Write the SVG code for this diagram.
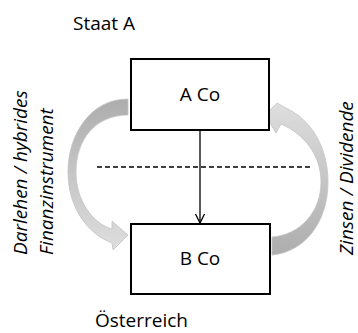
<svg xmlns="http://www.w3.org/2000/svg" width="358" height="333" viewBox="0 0 358 333">
<defs>
<style>
.t{font-family:"Open Sans","DejaVu Sans",sans-serif;font-size:19px;fill:#000}
.i{font-style:italic}
.box{fill:#fff;stroke:#000;stroke-width:2}
.flow{fill:url(#gl);stroke:#c4c4c4;stroke-width:0.8}
</style>
<linearGradient id="gl" x1="0" y1="0" x2="0" y2="1">
<stop offset="0" stop-color="#adadad"/>
<stop offset="1" stop-color="#dedede"/>
</linearGradient>
<linearGradient id="gr" x1="0" y1="1" x2="0" y2="0">
<stop offset="0" stop-color="#adadad"/>
<stop offset="1" stop-color="#dedede"/>
</linearGradient>
<marker id="ah" markerWidth="12" markerHeight="12" refX="10" refY="6" orient="auto" markerUnits="userSpaceOnUse">
<path d="M1,1.5 L10,6 L1,10.5" fill="none" stroke="#000" stroke-width="1.3"/>
</marker>
</defs>
<rect width="358" height="333" fill="#fff"/>
<g id="connectors">
<path id="loan" class="flow" d="M128,99 C90,99 68,135 68,172 C68,208 88,234 112,243 L113,250 L128,235 L112,221 L112,229 C92,223 76,200 76,172 C76,140 95,115 128,115 Z"/>
<path id="interest" class="flow" style="fill:url(#gr)" d="M272,255 C305,252 328,222 328,182 C328,148 312,120 286,108 L277,103 L265,115 L276,133 L281,124 C304,134 321,155 321,182 C321,212 300,235 272,237 Z"/>
<line x1="97" y1="167" x2="313" y2="167" stroke="#000" stroke-width="1.3" stroke-dasharray="5,3"/>
<line x1="200" y1="131" x2="200" y2="223" stroke="#000" stroke-width="1.3" marker-end="url(#ah)"/>
</g>
<g id="nodeA">
<rect class="box" x="131" y="59" width="138" height="71"/>
<text class="t" x="200" y="101" text-anchor="middle">A Co</text>
</g>
<g id="nodeB">
<rect class="box" x="131" y="224" width="139" height="70"/>
<text class="t" x="200" y="265" text-anchor="middle">B Co</text>
</g>
<g id="labels">
<text class="t" x="95" y="327">Österreich</text>
<text class="t" x="73" y="30">Staat A</text>
<text class="t i" transform="translate(27,255) rotate(-90)">Darlehen / hybrides</text>
<text class="t i" transform="translate(53,255) rotate(-90)">Finanzinstrument</text>
<text class="t i" transform="translate(353,255) rotate(-90)">Zinsen / Dividende</text>
</g>
</svg>
